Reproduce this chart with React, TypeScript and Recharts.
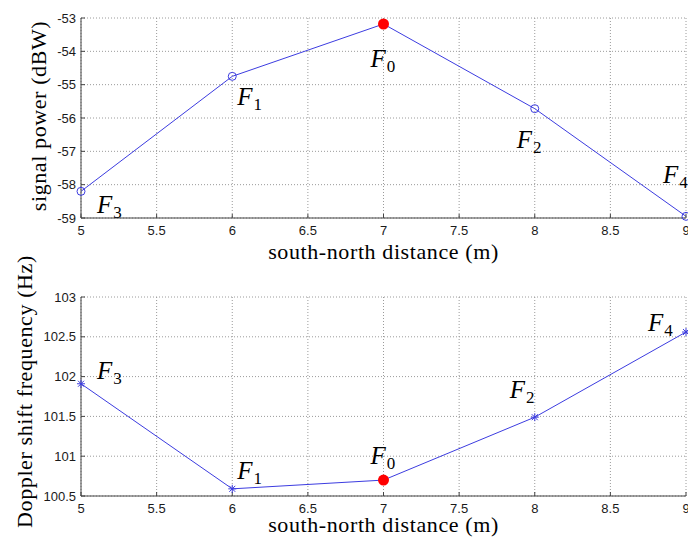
import { LineChart, Line, XAxis, YAxis, CartesianGrid, LabelList } from "recharts";

// measured along the south-north line
const distance = [5, 6, 7, 8, 9];
const signalPower = [-58.2, -54.75, -53.18, -55.72, -58.95];
const dopplerShift = [101.91, 100.59, 100.7, 101.49, 102.56];
const pointNames = ["3", "1", "0", "2", "4"];

const distanceTicks = [5, 5.5, 6, 6.5, 7, 7.5, 8, 8.5, 9];
const powerTicks = [-59, -58, -57, -56, -55, -54, -53];
const dopplerTicks = [100.5, 101, 101.5, 102, 102.5, 103];

// F0 is the reference point, drawn in red
const REF_INDEX = 2;

// where each F label sits relative to its point: [dx, dy to baseline]
const powerTagOffsets = [[16, 22], [5, 29], [-13, 43], [-18, 39], [-23, -33]];
const dopplerTagOffsets = [[16, -5], [5, -10], [-13, -16], [-25, -19], [-38, -1]];

const powerRows = distance.map((d, i) => ({ distance: d, value: signalPower[i], tag: pointNames[i] }));
const dopplerRows = distance.map((d, i) => ({ distance: d, value: dopplerShift[i], tag: pointNames[i] }));

const WIDTH = 688;
const LINE = "#3c3ce0";
const AXIS = "#444";
const SERIF = "'Liberation Serif', 'DejaVu Serif', serif";
const SANS = "'Liberation Sans', Arial, sans-serif";

const tickStyle = { fontSize: 13, fill: "#1a1a1a", fontFamily: SANS };
const titleStyle = { fontFamily: SERIF, fontSize: 22, letterSpacing: 0.6, fill: "#000" };

const Marker = (props: any) => {
  const { cx, cy, index, kind } = props;
  if (cx == null || cy == null) return <g key={`m-${index}`} />;
  if (index === REF_INDEX) {
    return <circle key={`m-${index}`} cx={cx} cy={cy} r={5.5} fill="#ff0000" stroke="none" />;
  }
  if (kind === "circle") {
    return <circle key={`m-${index}`} cx={cx} cy={cy} r={4} fill="none" stroke={LINE} strokeWidth={1} />;
  }
  const s = 4;
  return (
    <g key={`m-${index}`} stroke={LINE} strokeWidth={1}>
      <line x1={cx - s} y1={cy} x2={cx + s} y2={cy} />
      <line x1={cx} y1={cy - s} x2={cx} y2={cy + s} />
      <line x1={cx - 3} y1={cy - 3} x2={cx + 3} y2={cy + 3} />
      <line x1={cx - 3} y1={cy + 3} x2={cx + 3} y2={cy - 3} />
    </g>
  );
};

const PointTag = (props: any) => {
  const { x, y, index, value, offsets } = props;
  const [dx, dy] = offsets[index];
  return (
    <text x={x + dx} y={y + dy} fontFamily={SERIF} fill="#000">
      <tspan fontSize={25} fontStyle="italic">F</tspan>
      <tspan fontSize={17} dy={5} dx={1}>{value}</tspan>
    </text>
  );
};

const YTitle = (props: any) => {
  const { viewBox, text, cx, shift } = props;
  const cy = viewBox.y + viewBox.height / 2 + shift;
  return (
    <text
      x={cx}
      y={cy}
      transform={`rotate(-90, ${cx}, ${cy})`}
      textAnchor="middle"
      dominantBaseline="central"
      style={titleStyle}
    >
      {text}
    </text>
  );
};

const XTitle = (props: any) => {
  const { viewBox, baseline } = props;
  return (
    <text x={viewBox.x + viewBox.width / 2} y={viewBox.y + baseline} textAnchor="middle" style={titleStyle}>
      south-north distance (m)
    </text>
  );
};

type PanelProps = {
  rows: any[];
  height: number;
  top: number;
  xAxisHeight: number;
  yDomain: number[];
  yTicks: number[];
  yTitle: string;
  yTitleX: number;
  yTitleShift: number;
  xTitleBaseline: number;
  marker: string;
  tagOffsets: number[][];
};

const Panel = (p: PanelProps) => (
  <LineChart width={WIDTH} height={p.height} data={p.rows} margin={{ top: p.top, right: 2, bottom: 0, left: 0 }}>
    <CartesianGrid stroke="#9a9a9a" strokeDasharray="1 2" xAxisId="b" yAxisId="l" />
    <XAxis
      xAxisId="b"
      dataKey="distance"
      type="number"
      domain={[5, 9]}
      ticks={distanceTicks}
      height={p.xAxisHeight}
      tick={tickStyle}
      tickSize={-4}
      tickMargin={12}
      stroke={AXIS}
      interval={0}
      label={<XTitle baseline={p.xTitleBaseline} />}
    />
    <XAxis
      xAxisId="t"
      orientation="top"
      type="number"
      dataKey="distance"
      domain={[5, 9]}
      ticks={distanceTicks}
      height={0}
      tick={false}
      tickSize={-4}
      stroke={AXIS}
    />
    <YAxis
      yAxisId="l"
      type="number"
      domain={p.yDomain}
      ticks={p.yTicks}
      width={81}
      tick={tickStyle}
      tickSize={-4}
      tickMargin={9}
      stroke={AXIS}
      interval={0}
      label={<YTitle text={p.yTitle} cx={p.yTitleX} shift={p.yTitleShift} />}
    />
    <YAxis
      yAxisId="r"
      orientation="right"
      type="number"
      domain={p.yDomain}
      ticks={p.yTicks}
      width={0}
      tick={false}
      tickSize={-4}
      stroke={AXIS}
    />
    <Line
      xAxisId="b"
      yAxisId="l"
      type="linear"
      dataKey="value"
      stroke={LINE}
      strokeWidth={1}
      dot={(d: any) => <Marker key={`m-${d.index}`} {...d} kind={p.marker} />}
      activeDot={false}
      isAnimationActive={false}
    >
      <LabelList dataKey="tag" content={(l: any) => <PointTag {...l} offsets={p.tagOffsets} />} />
    </Line>
  </LineChart>
);

export default function App() {
  return (
    <div style={{ position: "absolute", left: 0, top: 0, width: WIDTH, height: 539, background: "#fff" }}>
      {/* the lower y title runs up past its own panel */}
      <style>{`.recharts-surface { overflow: visible; }`}</style>
      <Panel
        rows={powerRows}
        height={270}
        top={18}
        xAxisHeight={52}
        yDomain={[-59, -53]}
        yTicks={powerTicks}
        yTitle="signal power (dBW)"
        yTitleX={38}
        yTitleShift={-2}
        xTitleBaseline={41}
        marker="circle"
        tagOffsets={powerTagOffsets}
      />
      <Panel
        rows={dopplerRows}
        height={269}
        top={27}
        xAxisHeight={43}
        yDomain={[100.5, 103]}
        yTicks={dopplerTicks}
        yTitle="Doppler shift frequency (Hz)"
        yTitleX={24}
        yTitleShift={-5}
        xTitleBaseline={36}
        marker="star"
        tagOffsets={dopplerTagOffsets}
      />
    </div>
  );
}
